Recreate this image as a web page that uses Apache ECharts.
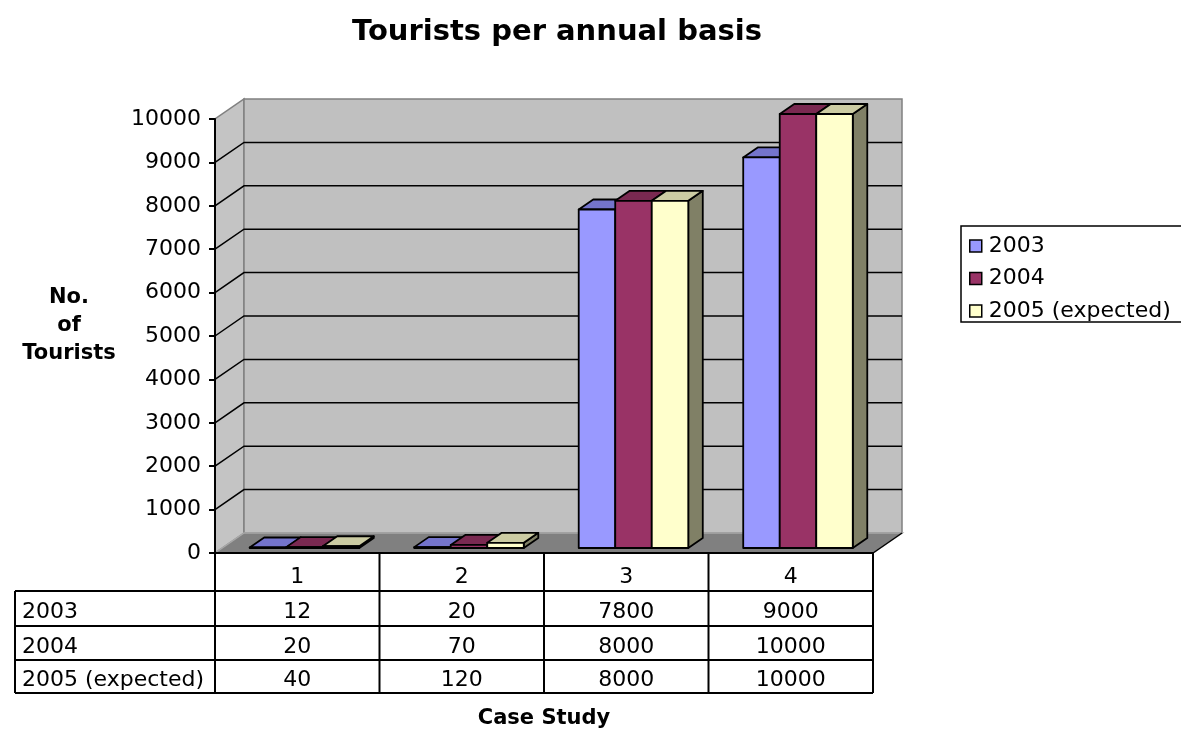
<!DOCTYPE html>
<html>
<head>
<meta charset="utf-8">
<script src="https://cdn.jsdelivr.net/npm/echarts@6/dist/echarts.min.js"></script>
<style>
html,body{margin:0;padding:0;background:#fff;}
#chart{width:1193px;height:731px;}
</style>
</head>
<body>
<div id="chart"></div>
<script>
// ---- data ----
const categories = ['1', '2', '3', '4'];
const seriesNames = ['2003', '2004', '2005 (expected)'];
const values2003 = [12, 20, 7800, 9000];
const values2004 = [20, 70, 8000, 10000];
const values2005 = [40, 120, 8000, 10000];
const yMin = 0, yMax = 10000, yInterval = 1000;

// ---- styles ----
const FONT = 'DejaVu Sans';
const FS = 22;
const faceColors = [
  { front: '#9999FF', top: '#7474CC', side: '#5C5C99' },
  { front: '#993366', top: '#7A2951', side: '#5C1F3D' },
  { front: '#FFFFCC', top: '#CCCCA3', side: '#808066' }
];
const DX = 29, DY = -20;          // 3D depth of the walls
const BAR_FRONT = 0.25, BAR_BACK = 0.75; // bar position inside the depth
const BAR_FRAC = 0.222;           // bar width fraction of a category band

const allValues = [values2003, values2004, values2005];

const chart = echarts.init(document.getElementById('chart'));

function frameRender(params, api) {
  const cs = params.coordSys;
  const x = cs.x, y = cs.y, w = cs.width, h = cs.height;
  const children = [];
  children.push({ type: 'polygon', shape: { points: [[x, y + h], [x, y], [x + DX, y + DY], [x + DX, y + h + DY]] },
    style: { fill: '#C4C4C4', stroke: '#808080', lineWidth: 1.5 } });
  children.push({ type: 'rect', shape: { x: x + DX, y: y + DY, width: w, height: h },
    style: { fill: '#C0C0C0', stroke: '#808080', lineWidth: 1.5 } });
  children.push({ type: 'polygon', shape: { points: [[x, y + h], [x + w, y + h], [x + w + DX, y + h + DY], [x + DX, y + h + DY]] },
    style: { fill: '#808080', stroke: '#A8A8A8', lineWidth: 1.5 } });
  children.push({ type: 'line', shape: { x1: x + w, y1: y + h, x2: x + w + DX, y2: y + h + DY },
    style: { stroke: '#000', lineWidth: 1.5 } });
  for (let v = yMin + yInterval; v < yMax; v += yInterval) {
    const yy = api.coord([0, v])[1];
    children.push({ type: 'polyline', shape: { points: [[x, yy], [x + DX, yy + DY], [x + w + DX, yy + DY]] },
      style: { stroke: '#000', lineWidth: 1.5, fill: null } });
  }
  return { type: 'group', children };
}

function makeBarRender(k) {
  return function (params, api) {
    const ci = api.value(0), val = api.value(1);
    const base = api.coord([ci, 0]);
    const topP = api.coord([ci, val]);
    const band = api.size([1, 0])[0];
    const bw = band * BAR_FRAC;
    const fx = DX * BAR_FRONT, fy = DY * BAR_FRONT;
    const bx = DX * (BAR_BACK - BAR_FRONT), by = DY * (BAR_BACK - BAR_FRONT);
    const x0 = base[0] - 1.5 * bw + k * bw + fx;
    const x1 = x0 + bw;
    const yb = base[1] + fy;
    const yt = topP[1] + fy;
    const c = faceColors[k];
    const st = { stroke: '#000', lineWidth: 1.8, lineJoin: 'round' };
    return {
      type: 'group',
      children: [
        { type: 'polygon', shape: { points: [[x1, yt], [x1, yb], [x1 + bx, yb + by], [x1 + bx, yt + by]] },
          style: Object.assign({ fill: c.side }, st) },
        { type: 'polygon', shape: { points: [[x0, yt], [x1, yt], [x1 + bx, yt + by], [x0 + bx, yt + by]] },
          style: Object.assign({ fill: c.top }, st) },
        { type: 'rect', shape: { x: x0, y: yt, width: bw, height: Math.max(yb - yt, 0) },
          style: Object.assign({ fill: c.front }, st) }
      ]
    };
  };
}

const series = [{
  type: 'custom', name: 'frame', silent: true, z: 1,
  renderItem: frameRender, data: [[0, 0]], encode: { x: 0, y: 1 }
}];
seriesNames.forEach((name, k) => {
  series.push({
    type: 'custom', name: name, z: 3 + k, silent: true,
    itemStyle: { color: faceColors[k].front, borderColor: '#000', borderWidth: 1.5 },
    renderItem: makeBarRender(k),
    encode: { x: 0, y: 1 },
    data: allValues[k].map((v, i) => [i, v])
  });
});

const option = {
  animation: false,
  backgroundColor: '#fff',
  textStyle: { fontFamily: FONT },
  title: {
    text: 'Tourists per annual basis',
    left: 352, top: 18, padding: 0,
    textStyle: { fontFamily: FONT, fontSize: 29, fontWeight: 'bold', color: '#000' }
  },
  legend: {
    data: seriesNames,
    orient: 'vertical',
    left: 969, top: 234, padding: 0,
    itemWidth: 12, itemHeight: 12, itemGap: 8.5,
    icon: 'rect',
    selectedMode: false,
    itemStyle: { borderColor: '#000', borderWidth: 1.5 },
    textStyle: { fontFamily: FONT, fontSize: FS, color: '#000', lineHeight: 24, padding: [0, 0, 0, 2] }
  },
  grid: { left: 215, right: 320, top: 119, bottom: 178, containLabel: false },
  xAxis: {
    type: 'category', data: categories, z: 6,
    axisLine: { show: true, lineStyle: { color: '#000', width: 2 } },
    axisTick: { show: false },
    axisLabel: { fontFamily: FONT, fontSize: FS, color: '#000', margin: 13 },
    splitLine: { show: false }
  },
  yAxis: {
    type: 'value', min: yMin, max: yMax, interval: yInterval, z: 6,
    axisLine: { show: true, lineStyle: { color: '#000', width: 2 } },
    axisTick: { show: true, length: 6, lineStyle: { color: '#000', width: 2 } },
    axisLabel: { fontFamily: FONT, fontSize: FS, color: '#000', margin: 14, formatter: v => String(v) },
    splitLine: { show: false }
  },
  series: series
};
chart.setOption(option);

// ---- data table, legend frame, axis titles ----
const xs = categories.map((c, i) => chart.convertToPixel({ xAxisIndex: 0 }, i));
const band = xs[1] - xs[0];
const edges = xs.map(x => x - band / 2).concat([xs[xs.length - 1] + band / 2]);
const y0 = chart.convertToPixel({ yAxisIndex: 0 }, yMin);
const tableLeft = 15;
const rowLines = [y0 + 38, y0 + 73, y0 + 107, y0 + 140];
const tableRight = edges[edges.length - 1];
const g = [];
const lineStyle = { stroke: '#000', lineWidth: 2 };
edges.forEach((ex) => {
  g.push({ type: 'line', z: 10, shape: { x1: ex, y1: y0, x2: ex, y2: rowLines[3] }, style: lineStyle });
});
g.push({ type: 'line', z: 10, shape: { x1: tableLeft, y1: rowLines[0], x2: tableLeft, y2: rowLines[3] }, style: lineStyle });
rowLines.forEach(ry => {
  g.push({ type: 'line', z: 10, shape: { x1: tableLeft, y1: ry, x2: tableRight, y2: ry }, style: lineStyle });
});
seriesNames.forEach((name, r) => {
  const top = rowLines[r], bot = rowLines[r + 1];
  const cy = (top + bot) / 2 + 4;
  g.push({ type: 'text', z: 10, x: tableLeft + 7, y: cy,
    style: { text: name, fontFamily: FONT, fontSize: FS, fill: '#000', align: 'left', verticalAlign: 'middle' } });
  allValues[r].forEach((v, i) => {
    g.push({ type: 'text', z: 10, x: xs[i], y: cy,
      style: { text: String(v), fontFamily: FONT, fontSize: FS, fill: '#000', align: 'center', verticalAlign: 'middle' } });
  });
});
g.push({ type: 'polyline', z: 10, shape: { points: [[1181, 226], [961, 226], [961, 322], [1181, 322]] },
  style: { stroke: '#000', lineWidth: 1.5, fill: null } });
g.push({ type: 'text', z: 10, x: 69, y: 326,
  style: { text: 'No.\nof\nTourists', fontFamily: FONT, fontSize: 21, fontWeight: 'bold', fill: '#000',
    align: 'center', verticalAlign: 'middle', lineHeight: 28 } });
g.push({ type: 'text', z: 10, x: (edges[0] + tableRight) / 2, y: 719,
  style: { text: 'Case Study', fontFamily: FONT, fontSize: 21, fontWeight: 'bold', fill: '#000',
    align: 'center', verticalAlign: 'middle' } });
chart.setOption({ graphic: g });
</script>
</body>
</html>
